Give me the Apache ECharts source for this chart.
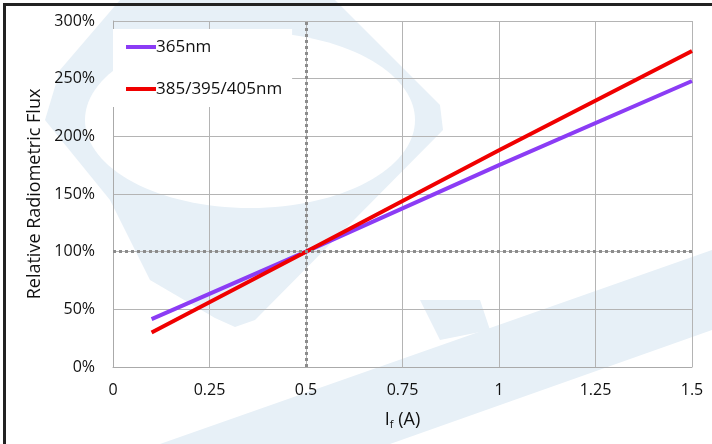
<!DOCTYPE html>
<html>
<head>
<meta charset="utf-8">
<script src="https://cdn.jsdelivr.net/npm/echarts@6/dist/echarts.min.js"></script>
<style>html,body{margin:0;padding:0;background:#fff}#c{width:712px;height:444px}</style>
</head>
<body>
<div id="c"></div>
<script>
var currents = [0.1, 0.5, 1.0, 1.5];
var flux365 = [41.5, 100, 175, 248];
var flux385 = [30, 100, 188, 274];
var seriesNames = ['365nm', '385/395/405nm'];
var refCurrent = 0.5;
var refFlux = 100;

var chart = echarts.init(document.getElementById('c'), null, {renderer: 'canvas'});
var wm = '#e7f0f7';
var font = '"Open Sans", "Noto Sans", sans-serif';

function pairs(xs, ys) { return xs.map(function (x, i) { return [x, ys[i]]; }); }

chart.setOption({
  animation: false,
  backgroundColor: '#fff',
  graphic: [
    {type: 'polygon', z: -10, shape: {points: [[120,0],[335,0],[440,105],[443,130],[255,320],[235,327],[215,318],[150,280],[110,200],[45,120],[60,70]]}, style: {fill: wm}},
    {type: 'ellipse', z: -9, shape: {cx: 250, cy: 120, rx: 165, ry: 88}, style: {fill: '#fff'}},
    {type: 'polygon', z: -10, shape: {points: [[160,444],[712,250],[712,330],[390,444]]}, style: {fill: wm}},
    {type: 'polygon', z: -10, shape: {points: [[420,300],[480,300],[490,330],[440,340]]}, style: {fill: wm}},
    {type: 'rect', z: 50, shape: {x: 3, y: 3, width: 709, height: 3}, style: {fill: '#222'}},
    {type: 'rect', z: 50, shape: {x: 3, y: 3, width: 3, height: 441}, style: {fill: '#222'}}
  ],
  grid: {left: 113, right: 20, top: 21, bottom: 77, show: false},
  legend: {
    orient: 'vertical', left: 113, top: 29,
    padding: [8, 10, 8, 13], itemGap: 22,
    backgroundColor: '#fff',
    icon: 'rect', itemWidth: 30, itemHeight: 4,
    textStyle: {fontSize: 17, lineHeight: 20, color: '#111', fontFamily: font, padding: [0, 0, 0, -5]},
    data: seriesNames
  },
  xAxis: {
    type: 'value', min: 0, max: 1.5, interval: 0.25,
    name: '{a|I}{s|f}{a| (A)}', nameLocation: 'middle', nameGap: 43,
    nameTextStyle: {rich: {
      a: {fontSize: 18, color: '#111', fontFamily: font},
      s: {fontSize: 11, color: '#111', fontFamily: font, verticalAlign: 'bottom', padding: [9, 0, 0, 0]}
    }},
    axisLine: {lineStyle: {color: '#aaa', width: 1}},
    axisTick: {show: false},
    axisLabel: {fontSize: 16, color: '#111', fontFamily: font, margin: 15},
    splitLine: {show: true, lineStyle: {color: '#b4b4b4', width: 1}}
  },
  yAxis: {
    type: 'value', min: 0, max: 300, interval: 50,
    name: 'Relative Radiometric Flux', nameLocation: 'middle', nameGap: 63, nameRotate: 90,
    nameTextStyle: {fontSize: 18, color: '#111', fontFamily: font},
    axisLine: {show: true, lineStyle: {color: '#aaa', width: 1}},
    axisTick: {show: false},
    axisLabel: {fontSize: 16, color: '#111', fontFamily: font, margin: 18, formatter: '{value}%'},
    splitLine: {show: true, lineStyle: {color: '#b4b4b4', width: 1}}
  },
  series: [
    {
      name: seriesNames[0], type: 'line', data: pairs(currents, flux365),
      symbol: 'none', lineStyle: {color: '#8b3cf5', width: 4}, itemStyle: {color: '#8b3cf5'}, z: 3,
      markLine: {
        silent: true, symbol: 'none', label: {show: false},
        lineStyle: {color: '#8c8c8c', width: 3, type: [3, 3]},
        data: [{xAxis: refCurrent}, {yAxis: refFlux}]
      }
    },
    {
      name: seriesNames[1], type: 'line', data: pairs(currents, flux385),
      symbol: 'none', lineStyle: {color: '#f00000', width: 4}, itemStyle: {color: '#f00000'}, z: 4
    }
  ]
});
</script>
</body>
</html>
